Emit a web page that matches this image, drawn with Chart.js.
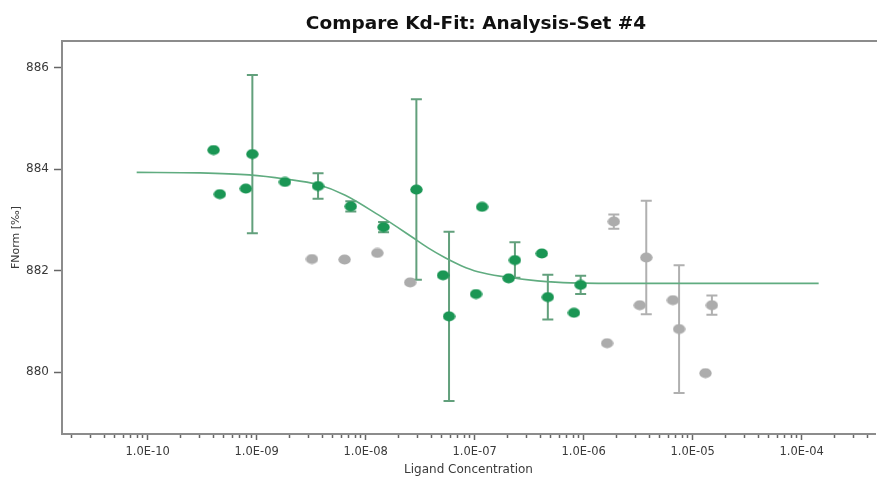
<!DOCTYPE html>
<html>
<head>
<meta charset="utf-8">
<title>Compare Kd-Fit</title>
<script src="https://cdn.jsdelivr.net/npm/chart.js@4.4.1/dist/chart.umd.min.js"></script>
<style>
  html, body { margin: 0; padding: 0; background: #fff; }
  #wrap { width: 880px; height: 477px; }
</style>
</head>
<body>
<div id="wrap"><canvas id="chart"></canvas></div>
<script>
// ligand concentration [M] / FNorm [‰]
var greenX = [4.03e-10, 4.60e-10, 7.96e-10, 9.14e-10, 1.82e-9, 3.66e-9, 7.31e-9, 1.46e-8, 2.92e-8, 5.13e-8,
              5.82e-8, 1.03e-7, 1.17e-7, 2.05e-7, 2.34e-7, 4.13e-7, 4.69e-7, 8.15e-7, 9.38e-7];
var greenY = [884.38, 883.51, 883.62, 884.30, 883.75, 883.67, 883.27, 882.86, 883.60, 881.91,
              881.10, 881.54, 883.26, 881.85, 882.21, 882.34, 881.48, 881.17, 881.72];
var greenErr = [0, 0, 0, 1.56, 0, 0.25, 0.1, 0.1, 1.78, 0,
                1.67, 0, 0, 0, 0.35, 0, 0.44, 0, 0.18];

var greyX = [3.22e-9, 6.41e-9, 1.28e-8, 2.56e-8, 1.64e-6, 1.89e-6, 3.27e-6, 3.75e-6, 6.58e-6, 7.50e-6, 1.31e-5, 1.50e-5];
var greyY = [882.23, 882.22, 882.35, 881.77, 880.57, 882.97, 881.32, 882.26, 881.42, 880.85, 879.98, 881.32];
var greyErr = [0, 0, 0, 0, 0, 0.14, 0, 1.12, 0, 1.26, 0, 0.19];

// fitted curve, sampled along the drawn line
var fitX = [7.94e-11, 2.98e-10, 8.53e-10, 1.82e-9, 3.63e-9, 6.50e-9, 1.31e-8, 2.64e-8, 3.74e-8,
            5.31e-8, 7.53e-8, 1.07e-7, 1.87e-7, 3.78e-7, 7.59e-7, 3.08e-6, 1.43e-4];
var fitY = [883.94, 883.93, 883.89, 883.81, 883.70, 883.49, 883.10, 882.67, 882.45,
            882.26, 882.10, 881.98, 881.88, 881.80, 881.76, 881.75, 881.75];

var decadeTicks = [1e-10, 1e-9, 1e-8, 1e-7, 1e-6, 1e-5, 1e-4];
var decadeLabels = ["1.0E-10", "1.0E-09", "1.0E-08", "1.0E-07", "1.0E-06", "1.0E-05", "1.0E-04"];
var yTicks = [880, 882, 884, 886];

var X_MIN = 1.64e-11, X_MAX = 4.7e-4;
var Y_MIN = 878.78, Y_MAX = 886.53;

var FONT = "'DejaVu Sans'";

function isDecade(v) {
  var l = Math.log10(v);
  return Math.abs(l - Math.round(l)) < 1e-6;
}

function pts(xs, ys) {
  return xs.map(function (x, i) { return { x: x, y: ys[i] }; });
}

function ellipse(color) {
  var c = document.createElement("canvas");
  c.width = 13; c.height = 11;
  var g = c.getContext("2d");
  g.fillStyle = color;
  g.beginPath();
  g.ellipse(6.5, 5.5, 6.2, 5.1, 0, 0, 2 * Math.PI);
  g.fill();
  return c;
}

// error bars under the points
var errorBars = {
  id: "errorBars",
  beforeDatasetsDraw: function (chart) {
    var ctx = chart.ctx, xs = chart.scales.x, ys = chart.scales.y;
    chart.data.datasets.forEach(function (ds) {
      if (!ds.errors) return;
      ctx.save();
      ctx.strokeStyle = ds.errorColor;
      ctx.lineWidth = 2;
      ds.data.forEach(function (p, i) {
        var e = ds.errors[i];
        if (!e) return;
        var px = xs.getPixelForValue(p.x);
        var top = ys.getPixelForValue(p.y + e);
        var bot = ys.getPixelForValue(p.y - e);
        ctx.beginPath();
        ctx.moveTo(px, top); ctx.lineTo(px, bot);
        ctx.moveTo(px - 5.5, top); ctx.lineTo(px + 5.5, top);
        ctx.moveTo(px - 5.5, bot); ctx.lineTo(px + 5.5, bot);
        ctx.stroke();
      });
      ctx.restore();
    });
  }
};

// top frame line + title
var frame = {
  id: "frame",
  afterDraw: function (chart) {
    var ctx = chart.ctx, a = chart.chartArea;
    ctx.save();
    ctx.strokeStyle = "#8c8c8c";
    ctx.lineWidth = 2;
    ctx.beginPath();
    ctx.moveTo(a.left, a.top);
    ctx.lineTo(a.right + 2, a.top);
    ctx.stroke();
    ctx.fillStyle = "#111";
    ctx.font = "bold 18.5px " + FONT;
    ctx.textAlign = "center";
    ctx.textBaseline = "middle";
    ctx.fillText("Compare Kd-Fit: Analysis-Set #4", 476, 24);
    ctx.restore();
  }
};

var ctx = document.getElementById("chart").getContext("2d");
var myChart = new Chart(ctx, {
  type: "scatter",
  data: {
    datasets: [{
      label: "Fit",
      type: "line",
      data: pts(fitX, fitY),
      borderColor: "rgb(96, 172, 128)",
      borderWidth: 1.6,
      pointRadius: 0,
      fill: false,
      cubicInterpolationMode: "monotone",
      order: 3
    }, {
      label: "Set A",
      data: pts(greenX, greenY),
      errors: greenErr,
      errorColor: "rgb(98, 160, 124)",
      pointStyle: ellipse("rgb(26, 150, 84)"),
      order: 1
    }, {
      label: "Set B",
      data: pts(greyX, greyY),
      errors: greyErr,
      errorColor: "rgb(176, 176, 176)",
      pointStyle: ellipse("rgb(172, 172, 172)"),
      order: 2
    }]
  },
  options: {
    responsive: true,
    maintainAspectRatio: false,
    animation: false,
    layout: { padding: { top: 41, right: 1, left: 0, bottom: 0 } },
    plugins: {
      legend: { display: false },
      title: { display: false },
      tooltip: { enabled: false }
    },
    scales: {
      x: {
        type: "logarithmic",
        min: X_MIN,
        max: X_MAX,
        afterBuildTicks: function (axis) {
          var t = [];
          for (var e = -11; e <= -4; e++) {
            for (var m = 1; m <= 9; m++) {
              var v = m * Math.pow(10, e);
              if (v >= X_MIN && v <= X_MAX) t.push({ value: v, major: m === 1 });
            }
          }
          axis.ticks = t;
        },
        afterFit: function (axis) { axis.height = 43; },
        border: { color: "#8c8c8c", width: 2 },
        grid: {
          drawOnChartArea: false,
          tickLength: 6,
          tickWidth: 1.5,
          tickColor: "#666",
          tickBorderDash: function (c) { return c.tick && isDecade(c.tick.value) ? [] : [3, 30]; }
        },
        ticks: {
          autoSkip: false,
          maxRotation: 0,
          padding: 5,
          color: "#3a3a3a",
          font: { family: FONT, size: 11.5 },
          callback: function (value) {
            for (var i = 0; i < decadeTicks.length; i++) {
              if (Math.abs(decadeTicks[i] - value) / decadeTicks[i] < 1e-6) return decadeLabels[i];
            }
            return "";
          }
        },
        title: {
          display: true,
          text: "Ligand Concentration",
          color: "#3a3a3a",
          font: { family: FONT, size: 12 },
          padding: { top: 0, bottom: 0 }
        }
      },
      y: {
        min: Y_MIN,
        max: Y_MAX,
        afterBuildTicks: function (axis) {
          axis.ticks = yTicks.map(function (v) { return { value: v }; });
        },
        afterFit: function (axis) { axis.width = 62; },
        border: { color: "#8c8c8c", width: 2 },
        grid: {
          drawOnChartArea: false,
          tickLength: 8,
          tickWidth: 1.5,
          tickColor: "#666"
        },
        ticks: {
          padding: 5,
          color: "#3a3a3a",
          font: { family: FONT, size: 12 },
          callback: function (value) { return String(value); }
        },
        title: {
          display: true,
          text: "FNorm [‰]",
          color: "#3a3a3a",
          font: { family: FONT, size: 11 },
          padding: { top: 10, bottom: 0 }
        }
      }
    }
  },
  plugins: [errorBars, frame]
});
</script>
</body>
</html>
